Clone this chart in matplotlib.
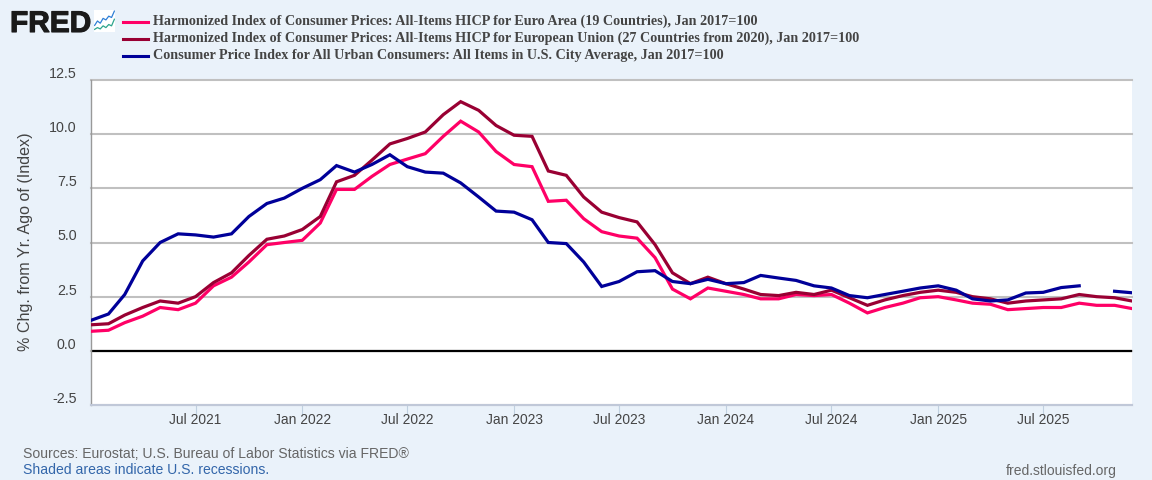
import matplotlib
matplotlib.use('Agg')
import matplotlib.pyplot as plt
import matplotlib.patheffects as pe
import matplotlib.transforms as mtrans
import numpy as np
import pandas as pd

W = 1152
H = 480
BG = '#EAF2FA'
SANS = 'Liberation Sans'
SERIF = 'Liberation Serif'

months = pd.date_range('2021-01-01', '2025-12-01', freq='MS')

euroArea = [0.9, 0.95, 1.3, 1.6, 2.0, 1.9, 2.2, 3.0, 3.4, 4.1, 4.9, 5.0,
            5.1, 5.9, 7.45, 7.45, 8.05, 8.6, 8.85, 9.1, 9.9, 10.6, 10.1, 9.2,
            8.6, 8.5, 6.9, 6.95, 6.1, 5.5, 5.3, 5.2, 4.3, 2.85, 2.4, 2.9,
            2.75, 2.6, 2.4, 2.4, 2.6, 2.55, 2.6, 2.2, 1.75, 2.0, 2.2, 2.45,
            2.5, 2.35, 2.2, 2.15, 1.9, 1.95, 2.0, 2.0, 2.2, 2.1, 2.1, 1.95]
euroUnion = [1.2, 1.25, 1.65, 2.0, 2.3, 2.2, 2.5, 3.15, 3.6, 4.4, 5.15, 5.3,
             5.6, 6.2, 7.8, 8.1, 8.8, 9.55, 9.8, 10.1, 10.9, 11.5, 11.1, 10.4,
             9.95, 9.9, 8.3, 8.1, 7.1, 6.4, 6.15, 5.95, 4.9, 3.6, 3.1, 3.4,
             3.1, 2.85, 2.6, 2.55, 2.7, 2.6, 2.8, 2.45, 2.1, 2.35, 2.55, 2.7,
             2.8, 2.7, 2.5, 2.4, 2.2, 2.3, 2.35, 2.4, 2.6, 2.5, 2.45, 2.3]
usCpi = [1.4, 1.7, 2.6, 4.15, 5.0, 5.4, 5.35, 5.25, 5.4, 6.2, 6.8, 7.05,
         7.5, 7.9, 8.55, 8.25, 8.6, 9.05, 8.5, 8.25, 8.2, 7.75, 7.1, 6.45,
         6.4, 6.05, 5.0, 4.95, 4.1, 2.97, 3.2, 3.65, 3.7, 3.2, 3.1, 3.3,
         3.1, 3.15, 3.48, 3.36, 3.25, 3.0, 2.9, 2.55, 2.45, 2.6, 2.75, 2.9,
         3.0, 2.8, 2.4, 2.3, 2.35, 2.67, 2.7, 2.92, 3.0, np.nan, 2.75, 2.68]

seriesLabels = ['Harmonized Index of Consumer Prices: All-Items HICP for Euro Area (19 Countries), Jan 2017=100',
                'Harmonized Index of Consumer Prices: All-Items HICP for European Union (27 Countries from 2020), Jan 2017=100',
                'Consumer Price Index for All Urban Consumers: All Items in U.S. City Average, Jan 2017=100']
seriesColors = ['#FF0066', '#990033', '#000099']

yTicks = [-2.5, 0.0, 2.5, 5.0, 7.5, 10.0, 12.5]
xTickDates = ['2021-07-01', '2022-01-01', '2022-07-01', '2023-01-01', '2023-07-01',
              '2024-01-01', '2024-07-01', '2025-01-01', '2025-07-01']
xTickLabels = ['Jul 2021', 'Jan 2022', 'Jul 2022', 'Jan 2023', 'Jul 2023',
               'Jan 2024', 'Jul 2024', 'Jan 2025', 'Jul 2025']

# small chart in the logo
iconBlue = [0.3, 0.5, 0.4, 0.62, 0.55, 0.72, 0.66, 0.95]
iconGreen = [0.12, 0.2, 0.14, 0.28, 0.2, 0.34, 0.28, 0.58]


def pxText(fig, x, y, s, **kw):
    # x and y in image pixels, y from the top
    return fig.text(x / W, 1 - y / H, s, **kw)


def main():
    fig = plt.figure(figsize=(W / 100, H / 100), dpi=100, facecolor=BG)
    left, right, top, bottom = 90.5, 1132, 80, 405
    ax = fig.add_axes([left / W, 1 - bottom / H, (right - left) / W, (bottom - top) / H])

    for vals, color in zip([euroArea, euroUnion, usCpi], seriesColors):
        ax.plot(months, vals, color=color, lw=2.3, zorder=3, solid_joinstyle='miter')

    ax.set_xlim(months[0], months[-1])
    ax.set_ylim(-2.5, 12.5)
    ax.set_yticks(yTicks)
    ax.set_yticklabels(['%.1f' % t for t in yTicks], fontfamily=SANS, fontsize=10.3, color='#444444')
    ax.set_xticks(pd.to_datetime(xTickDates))
    ax.set_xticklabels(xTickLabels, fontfamily=SANS, fontsize=9.9, color='#444444')

    ax.grid(axis='y', color='#C0C0C0', lw=1.5, zorder=1, clip_on=False)
    ax.axhline(0, color='black', lw=1.6, zorder=2)
    ax.tick_params(axis='y', length=0, pad=10)
    ax.tick_params(axis='x', length=7.5, width=0.8, color='#C0D0E0', pad=-1.7)
    offset = mtrans.ScaledTranslation(0, 7.5 / 100, fig.dpi_scale_trans)
    for lab in ax.get_yticklabels():
        lab.set_transform(lab.get_transform() + offset)

    for side in ['top', 'right']:
        ax.spines[side].set_visible(False)
    ax.spines['left'].set_color('#999999')
    ax.spines['left'].set_linewidth(1)
    ax.spines['bottom'].set_color('#C0C8D8')
    ax.spines['bottom'].set_linewidth(1.5)

    pxText(fig, 26, 242, '% Chg. from Yr. Ago of (Index)', rotation=90, ha='center', va='center',
           family=SANS, fontsize=11.6, color='#444444')

    # legend, drawn by hand because it sits outside the axes in the header
    legendY = [21.5, 38.5, 55.5]
    for y, label, color in zip(legendY, seriesLabels, seriesColors):
        fig.add_artist(plt.Line2D([123 / W, 148 / W], [1 - y / H, 1 - y / H], color=color, lw=2.2))
        pxText(fig, 153, y, label, ha='left', va='center', family=SERIF, weight='bold',
               fontsize=10.14, color='#444444')

    # logo
    logo = pxText(fig, 10, 32, 'FRED', ha='left', va='baseline', family=SANS, weight='bold',
                  fontsize=21.5, color='#1A1A1A')
    logo.set_path_effects([pe.withStroke(linewidth=0.8, foreground='#1A1A1A')])
    icon = fig.add_axes([94 / W, 1 - 32 / H, 21 / W, 22 / H], facecolor='white')
    icon.plot(np.linspace(0.03, 0.97, len(iconBlue)), iconBlue, color='#2E7FD6', lw=0.9)
    icon.plot(np.linspace(0.03, 0.97, len(iconGreen)), iconGreen, color='#2CA58D', lw=0.9)
    icon.set_xlim(0, 1)
    icon.set_ylim(0, 1)
    icon.set_xticks([])
    icon.set_yticks([])
    for spine in icon.spines.values():
        spine.set_visible(False)

    # footer
    pxText(fig, 23, 454.5, 'Sources: Eurostat; U.S. Bureau of Labor Statistics via FRED\u00ae', ha='left', va='center',
           family=SANS, fontsize=10.05, color='#666666')
    pxText(fig, 23, 470.5, 'Shaded areas indicate U.S. recessions.', ha='left', va='center',
           family=SANS, fontsize=10.05, color='#3366AA')
    pxText(fig, 1116.5, 470.5, 'fred.stlouisfed.org', ha='right', va='center',
           family=SANS, fontsize=10, color='#666666')

    fig.savefig('out.png', dpi=100, facecolor=BG)


if __name__ == '__main__':
    main()
